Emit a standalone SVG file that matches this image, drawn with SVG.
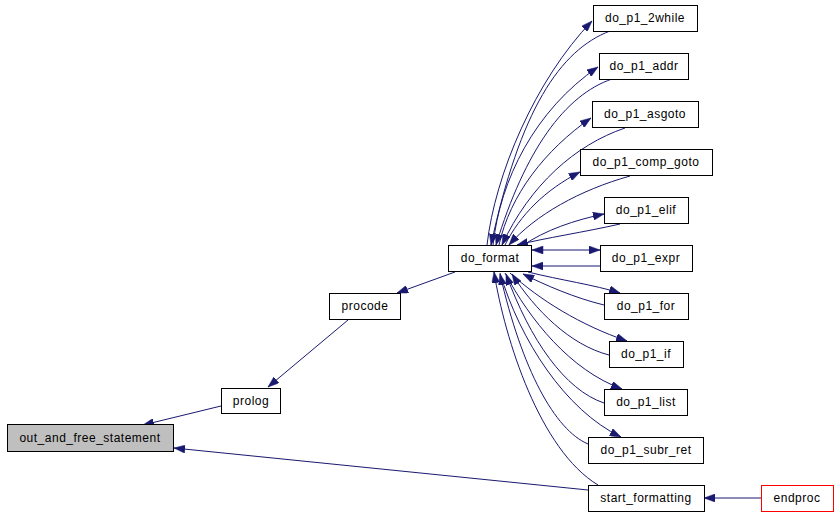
<svg xmlns="http://www.w3.org/2000/svg" width="837" height="514" viewBox="0 0 837 514">
<style>
.n rect{fill:#ffffff;stroke:#000000;stroke-width:1}
.n text{font-family:"Liberation Sans",Arial,sans-serif;font-size:12px;letter-spacing:0.5px;text-anchor:middle;fill:#000000}
.e path{fill:none;stroke:#191970;stroke-width:1;marker-end:url(#ah)}
</style>
<defs>
<marker id="ah" markerUnits="userSpaceOnUse" markerWidth="12" markerHeight="8" refX="11" refY="4" orient="auto">
<path d="M0,0 L11,4 L0,8 z" fill="#191970" stroke="#191970" stroke-width="0.5"/>
</marker>
<marker id="ahs" markerUnits="userSpaceOnUse" markerWidth="12" markerHeight="8" refX="0" refY="4" orient="auto">
<path d="M11,0 L0,4 L11,8 z" fill="#191970" stroke="#191970" stroke-width="0.5"/>
</marker>
</defs>
<rect width="837" height="514" fill="#ffffff"/>
<g id="connectors" class="e">
<path d="M455,272 L397,293"/>
<path d="M348,320 L268,387"/>
<path d="M221,406 L143,425"/>
<path d="M588,490 L174,448"/>
<path d="M761,498 L704,498"/>
<path d="M598,485 C540,450 505,340 494,272"/>
<path d="M487,245 C495,175 535,80 592,21"/>
<path d="M610,31 C560,50 520,110 491,245"/>
<path d="M493,245 C500,180 535,110 598,67"/>
<path d="M612,79 C565,95 525,150 496,245"/>
<path d="M499,245 C510,195 545,150 591,118"/>
<path d="M625,128 C575,145 530,185 502,245"/>
<path d="M505,245 C520,215 545,190 580,172"/>
<path d="M630,176 C580,190 535,215 509,245"/>
<path d="M522,246 C545,230 575,220 604,214"/>
<path d="M620,224 C585,232 545,238 517,245"/>
<path d="M532,250 L600,250" style="marker-start:url(#ahs)"/>
<path d="M600,266 L532,266"/>
<path d="M528,272 C560,280 595,285 620,293"/>
<path d="M604,305 C575,298 545,285 523,274"/>
<path d="M510,273 C540,300 580,325 627,341"/>
<path d="M609,355 C570,345 535,310 512,274"/>
<path d="M505,273 C530,320 570,370 622,389"/>
<path d="M604,403 C565,390 530,340 506,274"/>
<path d="M500,273 C520,340 565,410 621,437"/>
<path d="M588,444 C555,430 522,370 500,274"/>
</g>
<g id="out_and_free_statement" class="n"><rect x="7.5" y="424.5" width="166" height="27" style="fill:#bfbfbf"/><text x="90" y="442">out_and_free_statement</text></g>
<g id="prolog" class="n"><rect x="221.5" y="388.5" width="59" height="25"/><text x="251" y="405">prolog</text></g>
<g id="procode" class="n"><rect x="329.5" y="293.5" width="71" height="26"/><text x="365" y="310">procode</text></g>
<g id="do_format" class="n"><rect x="448.5" y="245.5" width="83" height="26"/><text x="490" y="262">do_format</text></g>
<g id="do_p1_2while" class="n"><rect x="593.5" y="5.5" width="104" height="26"/><text x="645" y="22">do_p1_2while</text></g>
<g id="do_p1_addr" class="n"><rect x="599.5" y="53.5" width="89" height="26"/><text x="644" y="70">do_p1_addr</text></g>
<g id="do_p1_asgoto" class="n"><rect x="592.5" y="101.5" width="106" height="26"/><text x="645" y="118">do_p1_asgoto</text></g>
<g id="do_p1_comp_goto" class="n"><rect x="580.5" y="149.5" width="132" height="26"/><text x="646" y="166">do_p1_comp_goto</text></g>
<g id="do_p1_elif" class="n"><rect x="604.5" y="197.5" width="84" height="26"/><text x="646" y="214">do_p1_elif</text></g>
<g id="do_p1_expr" class="n"><rect x="600.5" y="245.5" width="92" height="26"/><text x="646" y="262">do_p1_expr</text></g>
<g id="do_p1_for" class="n"><rect x="604.5" y="293.5" width="84" height="26"/><text x="646" y="310">do_p1_for</text></g>
<g id="do_p1_if" class="n"><rect x="609.5" y="341.5" width="74" height="26"/><text x="646" y="358">do_p1_if</text></g>
<g id="do_p1_list" class="n"><rect x="604.5" y="389.5" width="83" height="26"/><text x="646" y="406">do_p1_list</text></g>
<g id="do_p1_subr_ret" class="n"><rect x="588.5" y="437.5" width="115" height="26"/><text x="646" y="454">do_p1_subr_ret</text></g>
<g id="start_formatting" class="n"><rect x="588.5" y="485.5" width="116" height="26"/><text x="646" y="502">start_formatting</text></g>
<g id="endproc" class="n"><rect x="761.5" y="485.5" width="72" height="26" style="stroke:#ff0000"/><text x="797" y="502">endproc</text></g>
</svg>
